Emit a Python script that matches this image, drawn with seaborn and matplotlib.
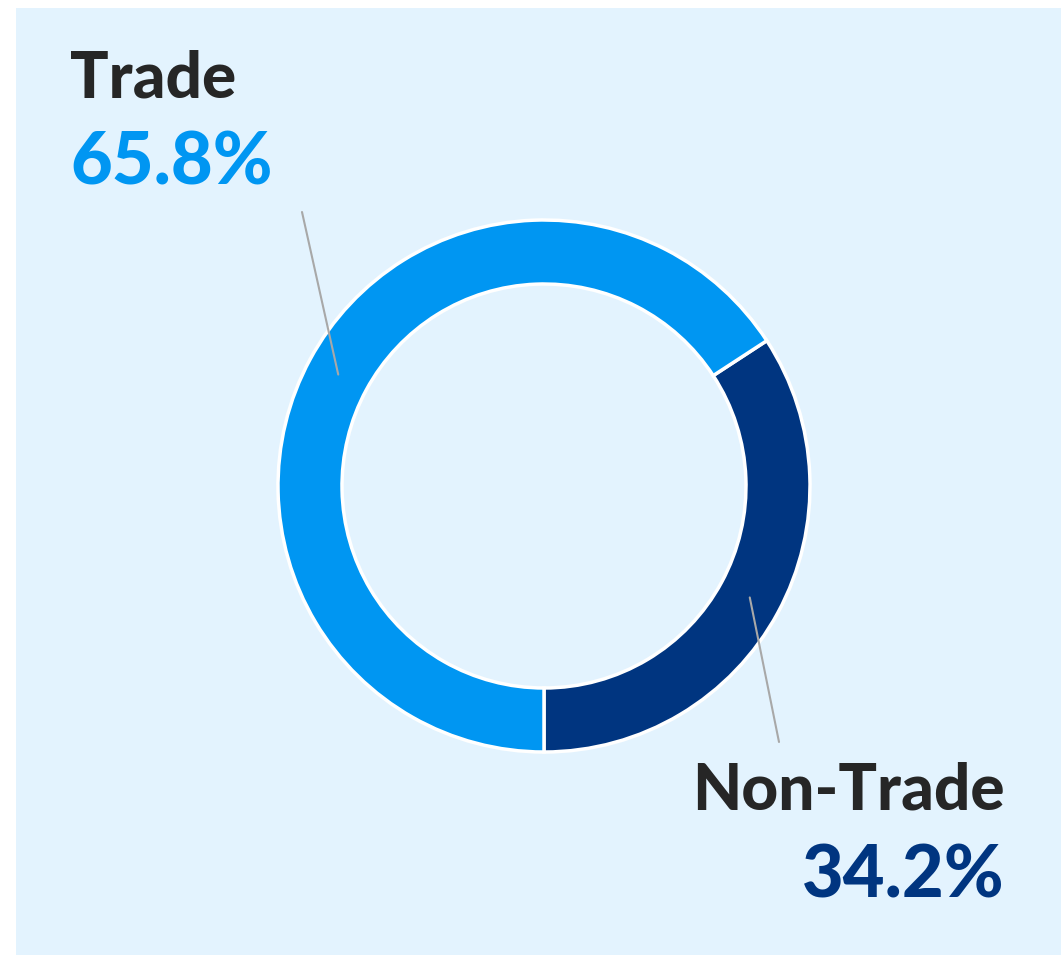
import numpy as np
import matplotlib
matplotlib.use("Agg")
import matplotlib.pyplot as plt
import seaborn as sns
from matplotlib.patches import Rectangle

# Data
categories = ["Trade", "Non-Trade"]
shares = [65.8, 34.2]
colors = ["#0096F2", "#003580"]

sns.set_theme(style="white")
plt.rcParams['font.family'] = ['Lato', 'DejaVu Sans']

W, H = 1061, 955
fig = plt.figure(figsize=(W / 100, H / 100), dpi=100, facecolor="white")
ax = fig.add_axes([0, 0, 1, 1])

# light blue panel
ax.add_patch(Rectangle((16, 0), W - 16, H - 8, facecolor="#E3F3FE", edgecolor="none", zorder=0))

cx, cy, r, ring = 544, H - 486, 266, 64
# Non-Trade starts at 6 o'clock going counterclockwise, Trade follows
vals = shares[::-1]
cols = colors[::-1]
wedges, _ = ax.pie(vals, colors=cols, startangle=-90, counterclock=True,
                   center=(cx, cy), radius=r,
                   wedgeprops=dict(width=ring, edgecolor="white", linewidth=2.5))

ax.set_xlim(0, W)
ax.set_ylim(0, H)
ax.set_aspect("equal")
ax.axis("off")

# leader lines from the middle of each ring segment
mid_r = r - ring / 2
ends = {"Trade": (302, H - 212), "Non-Trade": (779, H - 742)}
for w, name in zip(wedges, categories[::-1]):
    a = np.deg2rad((w.theta1 + w.theta2) / 2)
    x0, y0 = cx + mid_r * np.cos(a), cy + mid_r * np.sin(a)
    x1, y1 = ends[name]
    ax.plot([x0, x1], [y0, y1], color="#A8A8A8", lw=1.5, zorder=3)

ax.text(70, H - 98, categories[0], fontsize=46, fontweight="black", color="#262626", va="baseline", ha="left")
ax.text(70, H - 185, f"{shares[0]}%", fontsize=52, fontweight="black", color=colors[0], va="baseline", ha="left")
ax.text(1005, H - 810, categories[1], fontsize=46, fontweight="black", color="#262626", va="baseline", ha="right")
ax.text(1005, H - 897, f"{shares[1]}%", fontsize=52, fontweight="black", color=colors[1], va="baseline", ha="right")

fig.savefig("out.png", dpi=100, facecolor="white")
